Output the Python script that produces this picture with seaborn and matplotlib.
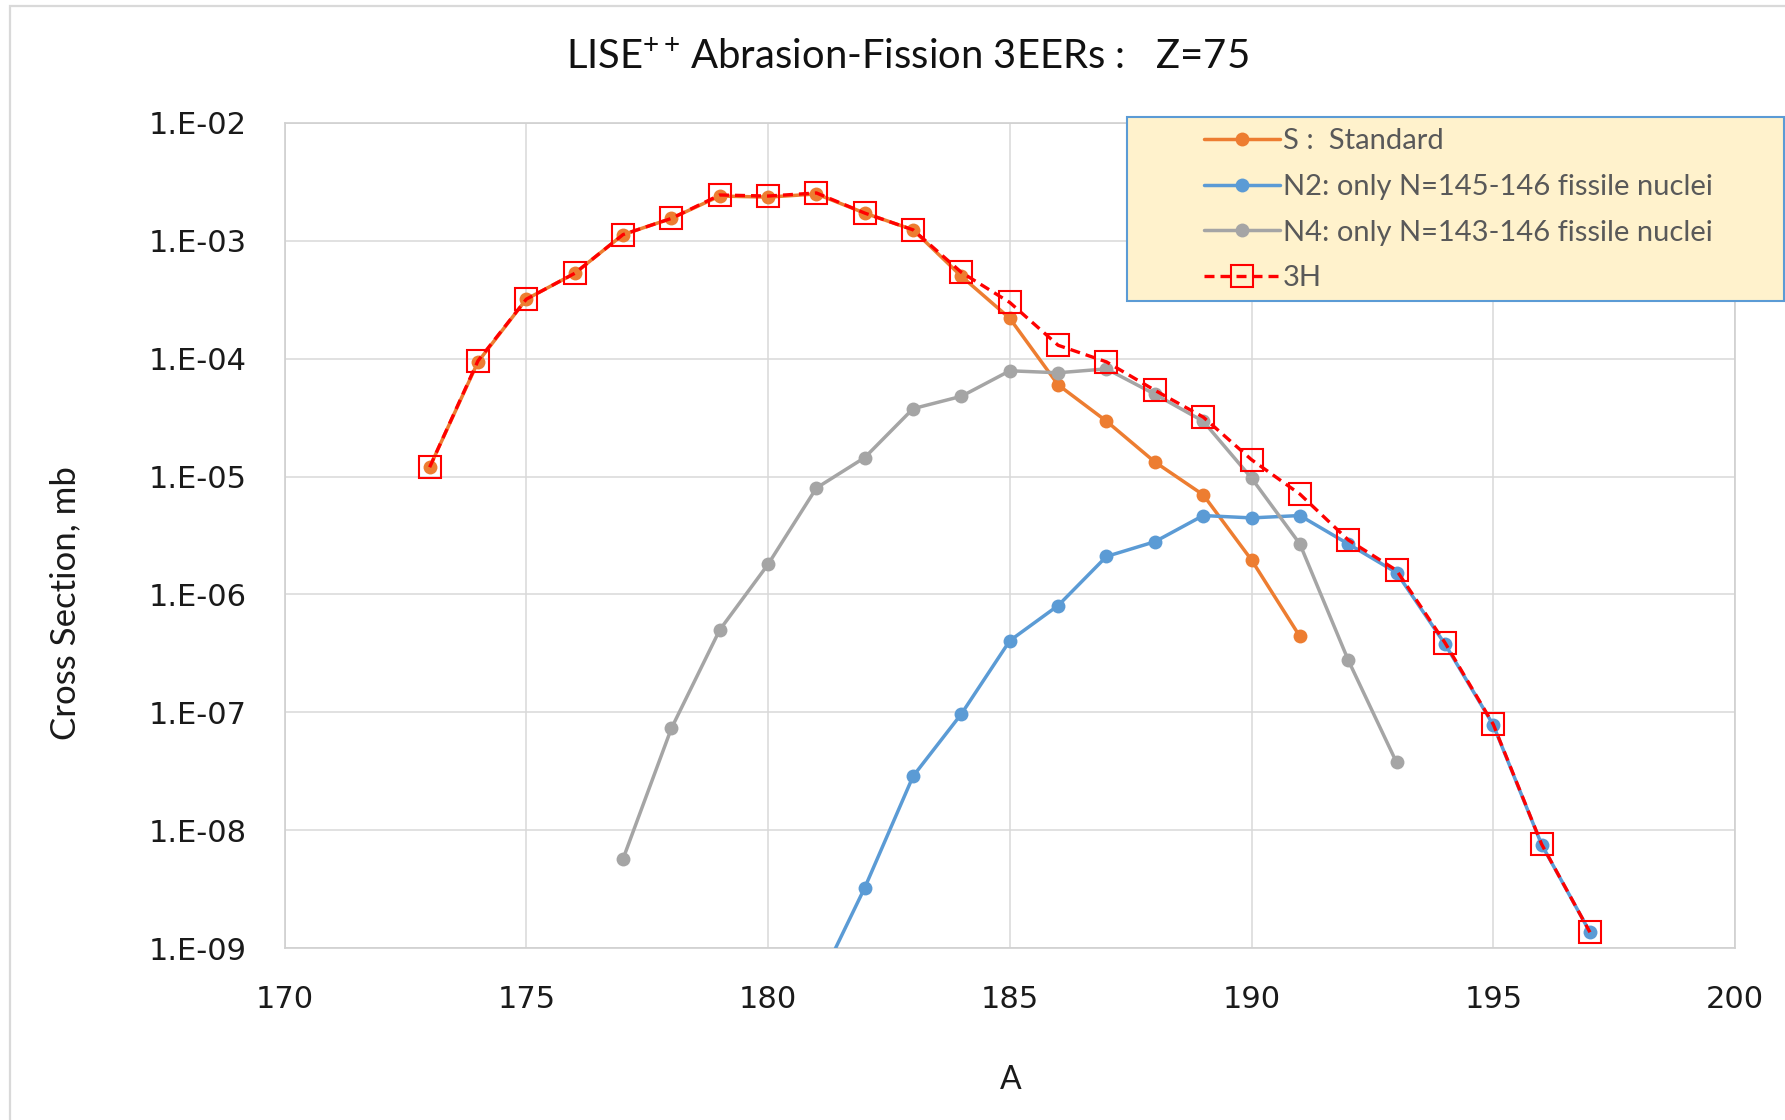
import matplotlib
matplotlib.use("Agg")
import matplotlib.pyplot as plt
import seaborn as sns
import pandas as pd
from matplotlib.patches import Rectangle

# ---------------- data ----------------
A_S = list(range(173, 192))
S_vals = [1.2e-5, 9.4e-5, 3.2e-4, 5.3e-4, 1.13e-3, 1.55e-3, 2.4e-3, 2.35e-3, 2.5e-3,
          1.72e-3, 1.24e-3, 5.0e-4, 2.2e-4, 6.0e-5, 2.95e-5, 1.33e-5, 7.0e-6, 1.96e-6, 4.4e-7]

A_N2 = list(range(181, 198))
N2_vals = [4.6e-10, 3.25e-9, 2.87e-8, 9.7e-8, 4.05e-7, 8.05e-7, 2.1e-6, 2.8e-6, 4.67e-6,
           4.46e-6, 4.67e-6, 2.68e-6, 1.53e-6, 3.8e-7, 7.8e-8, 7.55e-9, 1.36e-9]

A_N4 = list(range(177, 194))
N4_vals = [5.7e-9, 7.3e-8, 5.0e-7, 1.8e-6, 8.0e-6, 1.45e-5, 3.77e-5, 4.8e-5, 7.9e-5,
           7.6e-5, 8.2e-5, 5.0e-5, 2.95e-5, 9.7e-6, 2.68e-6, 2.77e-7, 3.75e-8]

A_3H = list(range(173, 198))
H3_vals = [1.2e-5, 9.6e-5, 3.2e-4, 5.3e-4, 1.13e-3, 1.55e-3, 2.45e-3, 2.4e-3, 2.55e-3,
           1.72e-3, 1.24e-3, 5.4e-4, 3.0e-4, 1.3e-4, 9.4e-5, 5.4e-5, 3.2e-5, 1.39e-5,
           7.1e-6, 2.9e-6, 1.6e-6, 3.9e-7, 7.9e-8, 7.6e-9, 1.36e-9]

series_labels = ["S :  Standard", "N2: only N=145-146 fissile nuclei",
                 "N4: only N=143-146 fissile nuclei", "3H"]
x_ticks = [170, 175, 180, 185, 190, 195, 200]
y_ticks = [1e-9, 1e-8, 1e-7, 1e-6, 1e-5, 1e-4, 1e-3, 1e-2]
y_ticklabels = ["1.E-09", "1.E-08", "1.E-07", "1.E-06", "1.E-05", "1.E-04", "1.E-03", "1.E-02"]
title_text = "LISE$^{\\mathrm{++}}\\,$Abrasion-Fission 3EERs :   Z=75"
x_label = "A"
y_label = "Cross Section, mb"

# ---------------- style ----------------
sns.set_theme(style="white")
plt.rcParams["font.family"] = ["Lato", "DejaVu Sans"]
plt.rcParams["mathtext.fontset"] = "custom"
plt.rcParams["mathtext.rm"] = "Lato"
plt.rcParams["mathtext.it"] = "Lato:italic"
plt.rcParams["mathtext.bf"] = "Lato:bold"

W, H = 1785, 1120
fig = plt.figure(figsize=(W / 100, H / 100), dpi=100)
fig.patch.set_facecolor("white")

ax_l, ax_r, ax_t, ax_b = 284.6, 1735.0, 123.0, 948.0
ax = fig.add_axes([ax_l / W, 1 - ax_b / H, (ax_r - ax_l) / W, (ax_b - ax_t) / H])
ax.set_yscale("log")

colors = ["#ED7D31", "#5B9BD5", "#A5A5A5", "#FF0000"]

df_S = pd.DataFrame({"A": A_S, "sigma": S_vals})
df_N2 = pd.DataFrame({"A": A_N2, "sigma": N2_vals})
df_N4 = pd.DataFrame({"A": A_N4, "sigma": N4_vals})
df_3H = pd.DataFrame({"A": A_3H, "sigma": H3_vals})

common = dict(x="A", y="sigma", ax=ax, errorbar=None, linewidth=2.5, marker="o",
              markersize=10, markeredgewidth=0, legend=False)
sns.lineplot(data=df_S, color=colors[0], label=series_labels[0], zorder=3, **common)
sns.lineplot(data=df_N2, color=colors[1], label=series_labels[1], zorder=4, **common)
sns.lineplot(data=df_N4, color=colors[2], label=series_labels[2], zorder=5, **common)
sns.lineplot(data=df_3H, x="A", y="sigma", ax=ax, errorbar=None, color=colors[3],
             label=series_labels[3], linewidth=2.4, linestyle=(0, (3, 1.8)), marker="s",
             markersize=16.5, markerfacecolor="none", markeredgecolor=colors[3],
             markeredgewidth=1.5, legend=False, zorder=6)

if ax.get_legend() is not None:
    ax.get_legend().remove()

ax.set_xlim(170, 200)
ax.set_ylim(1e-9, 1e-2)
ax.set_xticks(x_ticks)
ax.set_xticklabels([str(t) for t in x_ticks])
ax.set_yticks(y_ticks)
ax.set_yticklabels(y_ticklabels)
ax.minorticks_off()
ax.tick_params(axis="both", length=0, pad=27, labelsize=22, colors="#1a1a1a")
for lbl in ax.get_xticklabels() + ax.get_yticklabels():
    lbl.set_fontfamily("DejaVu Sans")

ax.grid(True, color="#D9D9D9", linewidth=1.1)
for sp in ax.spines.values():
    sp.set_color("#D0D0D0")
    sp.set_linewidth(1.2)

ax.set_xlabel(x_label, fontsize=23, color="#1a1a1a")
ax.set_ylabel(y_label, fontsize=25, color="#1a1a1a")
ax.xaxis.set_label_coords((1011 - ax_l) / (ax_r - ax_l), (ax_b - 1080) / (ax_b - ax_t))
ax.yaxis.set_label_coords((65 - ax_l) / (ax_r - ax_l), (ax_b - 603) / (ax_b - ax_t))
ax.xaxis.label.set_va("center")
ax.yaxis.label.set_va("center")

fig.text(907 / W, 1 - 57 / H, title_text, ha="center", va="center", fontsize=28.8,
         color="#111111")

# chart border
fig.patches.append(Rectangle((10 / W, -0.05), 1.2, 1.05 - 6 / H, transform=fig.transFigure,
                             facecolor="none", edgecolor="#D9D9D9", linewidth=1.6, zorder=0))

# legend box
fig.patches.append(Rectangle((1127 / W, 1 - 301 / H), (1784 - 1127) / W, (301 - 117) / H,
                             transform=fig.transFigure, facecolor="#FFF2CC",
                             edgecolor="#5B9BD5", linewidth=1.5, zorder=8))

handles, labels = ax.get_legend_handles_labels()
leg = fig.legend(handles, labels, loc="upper left", bbox_to_anchor=(1204 / W, 1 - 128 / H),
                 frameon=False, fontsize=21, handlelength=2.6, handletextpad=0.1,
                 labelspacing=0.68, borderpad=0, borderaxespad=0)
leg.set_zorder(10)
for t in leg.get_texts():
    t.set_color("#595959")

fig.savefig("out.png", dpi=100)
